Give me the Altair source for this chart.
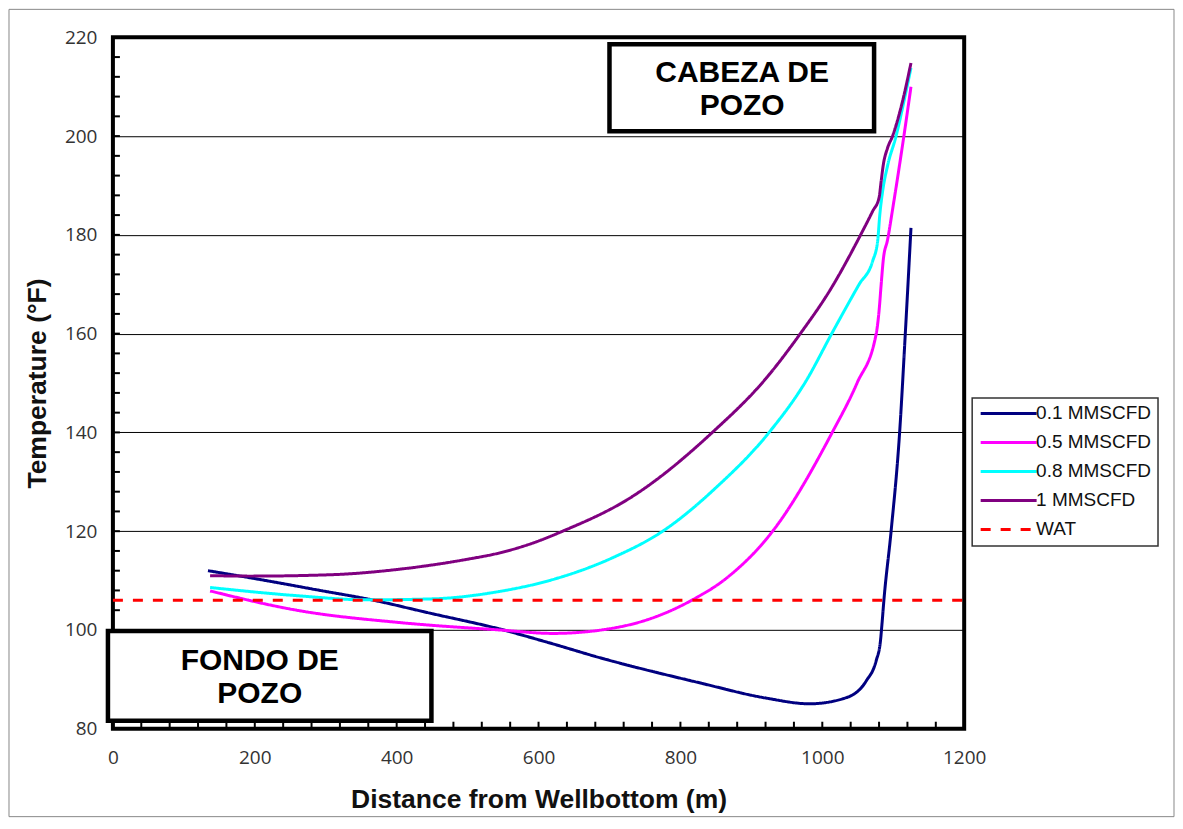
import altair as alt
import pandas as pd

# ---------------- data ----------------
series_names = ["0.1 MMSCFD", "0.5 MMSCFD", "0.8 MMSCFD", "1 MMSCFD", "WAT"]
series_colors = ["#000080", "#FF00FF", "#00FFFF", "#800080", "#FF0000"]

dist_01 = [134, 200, 300, 358, 450, 545, 615, 686, 827, 921, 982, 1034, 1062, 1076, 1082, 1084, 1087, 1097, 1109, 1117, 1125]
temp_01 = [112.0, 110.4, 107.8, 106.3, 103.3, 100.2, 97.4, 94.4, 89.3, 86.2, 85.05, 86.3, 89.7, 93.8, 97.8, 101.0, 106.3, 120.0, 140.0, 160.0, 181.4]

dist_05 = [137, 263, 404, 545, 620, 710, 756, 817, 865, 930, 1014, 1049, 1076, 1080, 1083, 1086, 1092, 1100, 1115, 1125]
temp_05 = [107.9, 103.9, 101.5, 100.0, 99.3, 100.5, 102.2, 106.1, 110.5, 120.0, 140.0, 150.0, 160.0, 164.6, 170.0, 175.0, 179.0, 186.0, 200.0, 210.0]

dist_08 = [137, 263, 358, 451, 545, 615, 704, 775, 850, 925, 977, 1014, 1052, 1071, 1078, 1081, 1085, 1092, 1104, 1115, 1125]
temp_08 = [108.6, 106.9, 106.1, 106.3, 107.8, 110.0, 114.6, 120.0, 128.8, 140.0, 150.4, 160.2, 170.0, 174.7, 178.7, 184.0, 188.8, 194.0, 200.0, 207.0, 213.8]

dist_10 = [137, 193, 310, 404, 499, 545, 592, 634, 732, 845, 921, 970, 1010, 1054, 1071, 1080, 1083, 1086, 1092, 1099, 1113, 1125]
temp_10 = [111.0, 110.9, 111.2, 112.3, 114.3, 115.6, 117.6, 120.0, 127.0, 140.0, 151.0, 160.2, 168.6, 180.0, 184.8, 187.5, 190.9, 194.2, 197.6, 200.0, 207.0, 214.8]

dist_wat = [0, 1200]
temp_wat = [106, 106]

x_ticks = [0, 200, 400, 600, 800, 1000, 1200]
y_ticks = [80, 100, 120, 140, 160, 180, 200, 220]
x_minor = list(range(0, 1201, 40))
y_minor = list(range(80, 221, 4))

box_x = [700, -7]
box_x2 = [1073, 449]
box_y = [218.6, 99.8]
box_y2 = [201.0, 81.6]
box_text = ["CABEZA DE", "POZO", "FONDO DE", "POZO"]
box_text_x = [887, 887, 207, 207]
box_text_y = [212.7, 206.0, 93.8, 87.1]

# ---------------- tables ----------------
rows = []
for name, xs, ys in zip(series_names,
                        [dist_01, dist_05, dist_08, dist_10, dist_wat],
                        [temp_01, temp_05, temp_08, temp_10, temp_wat]):
    for a, b in zip(xs, ys):
        rows.append({"series": name, "dist": a, "temp": b})
lines_df = pd.DataFrame(rows)

W, H = 852, 692
xscale = alt.Scale(domain=[0, 1200], nice=False, zero=False)
yscale = alt.Scale(domain=[80, 220], nice=False, zero=False)

x_axis = alt.Axis(values=x_ticks, format="d", grid=False, ticks=False, domain=False,
                  labelFlush=False,
                  labelFont="Open Sans", labelFontSize=19, labelColor="#333333",
                  labelPadding=20, title="Distance from Wellbottom (m)",
                  titleFont="Liberation Sans", titleFontSize=26.5, titleFontWeight="bold",
                  titleColor="#111111", titlePadding=19)
y_axis = alt.Axis(values=y_ticks, format="d", grid=True, gridColor="#000000", gridWidth=1,
                  ticks=False, domain=False, labelFlush=False,
                  labelFont="Open Sans", labelFontSize=19, labelColor="#333333",
                  labelPadding=16, title="Temperature (°F)",
                  titleFont="Liberation Sans", titleFontSize=26.5, titleFontWeight="bold",
                  titleColor="#111111", titlePadding=13)

base = alt.Chart(lines_df)

lines = base.mark_line(interpolate="monotone").encode(
    x=alt.X("dist:Q", scale=xscale, axis=x_axis),
    y=alt.Y("temp:Q", scale=yscale, axis=y_axis),
    color=alt.Color("series:N", sort=series_names,
                    scale=alt.Scale(domain=series_names, range=series_colors),
                    legend=alt.Legend(title=None, orient="none", legendX=860, legendY=361,
                                      strokeColor="#333333", fillColor="white",
                                      padding=6, labelFont="Liberation Sans", labelFontSize=19,
                                      labelColor="#111111", labelOffset=18, labelLimit=300,
                                      symbolType="M-4,0H4", symbolSize=196, symbolStrokeWidth=4,
                                      symbolOffset=21, rowPadding=9)),
    strokeDash=alt.StrokeDash("series:N", sort=series_names,
                              scale=alt.Scale(domain=series_names,
                                              range=[[1, 0], [1, 0], [1, 0], [1, 0], [10, 10]]),
                              legend=alt.Legend(title=None, orient="none", legendX=860, legendY=361)),
    strokeWidth=alt.StrokeWidth("series:N",
                                scale=alt.Scale(domain=series_names, range=[3, 3, 3, 3, 4]),
                                legend=None),
    detail="series:N",
)

ytick_df = pd.DataFrame({"v": y_minor})
xtick_df = pd.DataFrame({"v": x_minor})

yticks = alt.Chart(ytick_df).mark_rule(color="black", strokeWidth=2).encode(
    y=alt.Y("v:Q", scale=yscale), x=alt.value(0), x2=alt.value(7))
xticks = alt.Chart(xtick_df).mark_rule(color="black", strokeWidth=2).encode(
    x=alt.X("v:Q", scale=xscale), y=alt.value(H), y2=alt.value(H - 7))

boxes_df = pd.DataFrame({"x": box_x, "x2": box_x2, "y": box_y, "y2": box_y2})
boxes = alt.Chart(boxes_df).mark_rect(fill="white", stroke="black", strokeWidth=4.5).encode(
    x=alt.X("x:Q", scale=xscale), x2="x2:Q",
    y=alt.Y("y:Q", scale=yscale), y2="y2:Q")

texts_df = pd.DataFrame({"t": box_text, "x": box_text_x, "y": box_text_y})
texts = alt.Chart(texts_df).mark_text(font="Liberation Sans", fontSize=30, fontWeight="bold",
                                      color="black", align="center", baseline="middle").encode(
    x=alt.X("x:Q", scale=xscale), y=alt.Y("y:Q", scale=yscale), text="t:N")

frame = alt.Chart(pd.DataFrame({"a": [0]})).mark_rect(filled=False, stroke="#888888",
                                                     strokeWidth=1).encode(
    x=alt.value(-104), x2=alt.value(1062), y=alt.value(-28), y2=alt.value(780))

chart = alt.layer(lines, yticks, xticks, boxes, texts, frame).properties(
    width=W, height=H, padding=0, background="white"
).configure_view(stroke="black", strokeWidth=4).configure_legend(strokeWidth=1.5)

chart.save("out.html", embed_options={"renderer": "svg", "actions": False})
